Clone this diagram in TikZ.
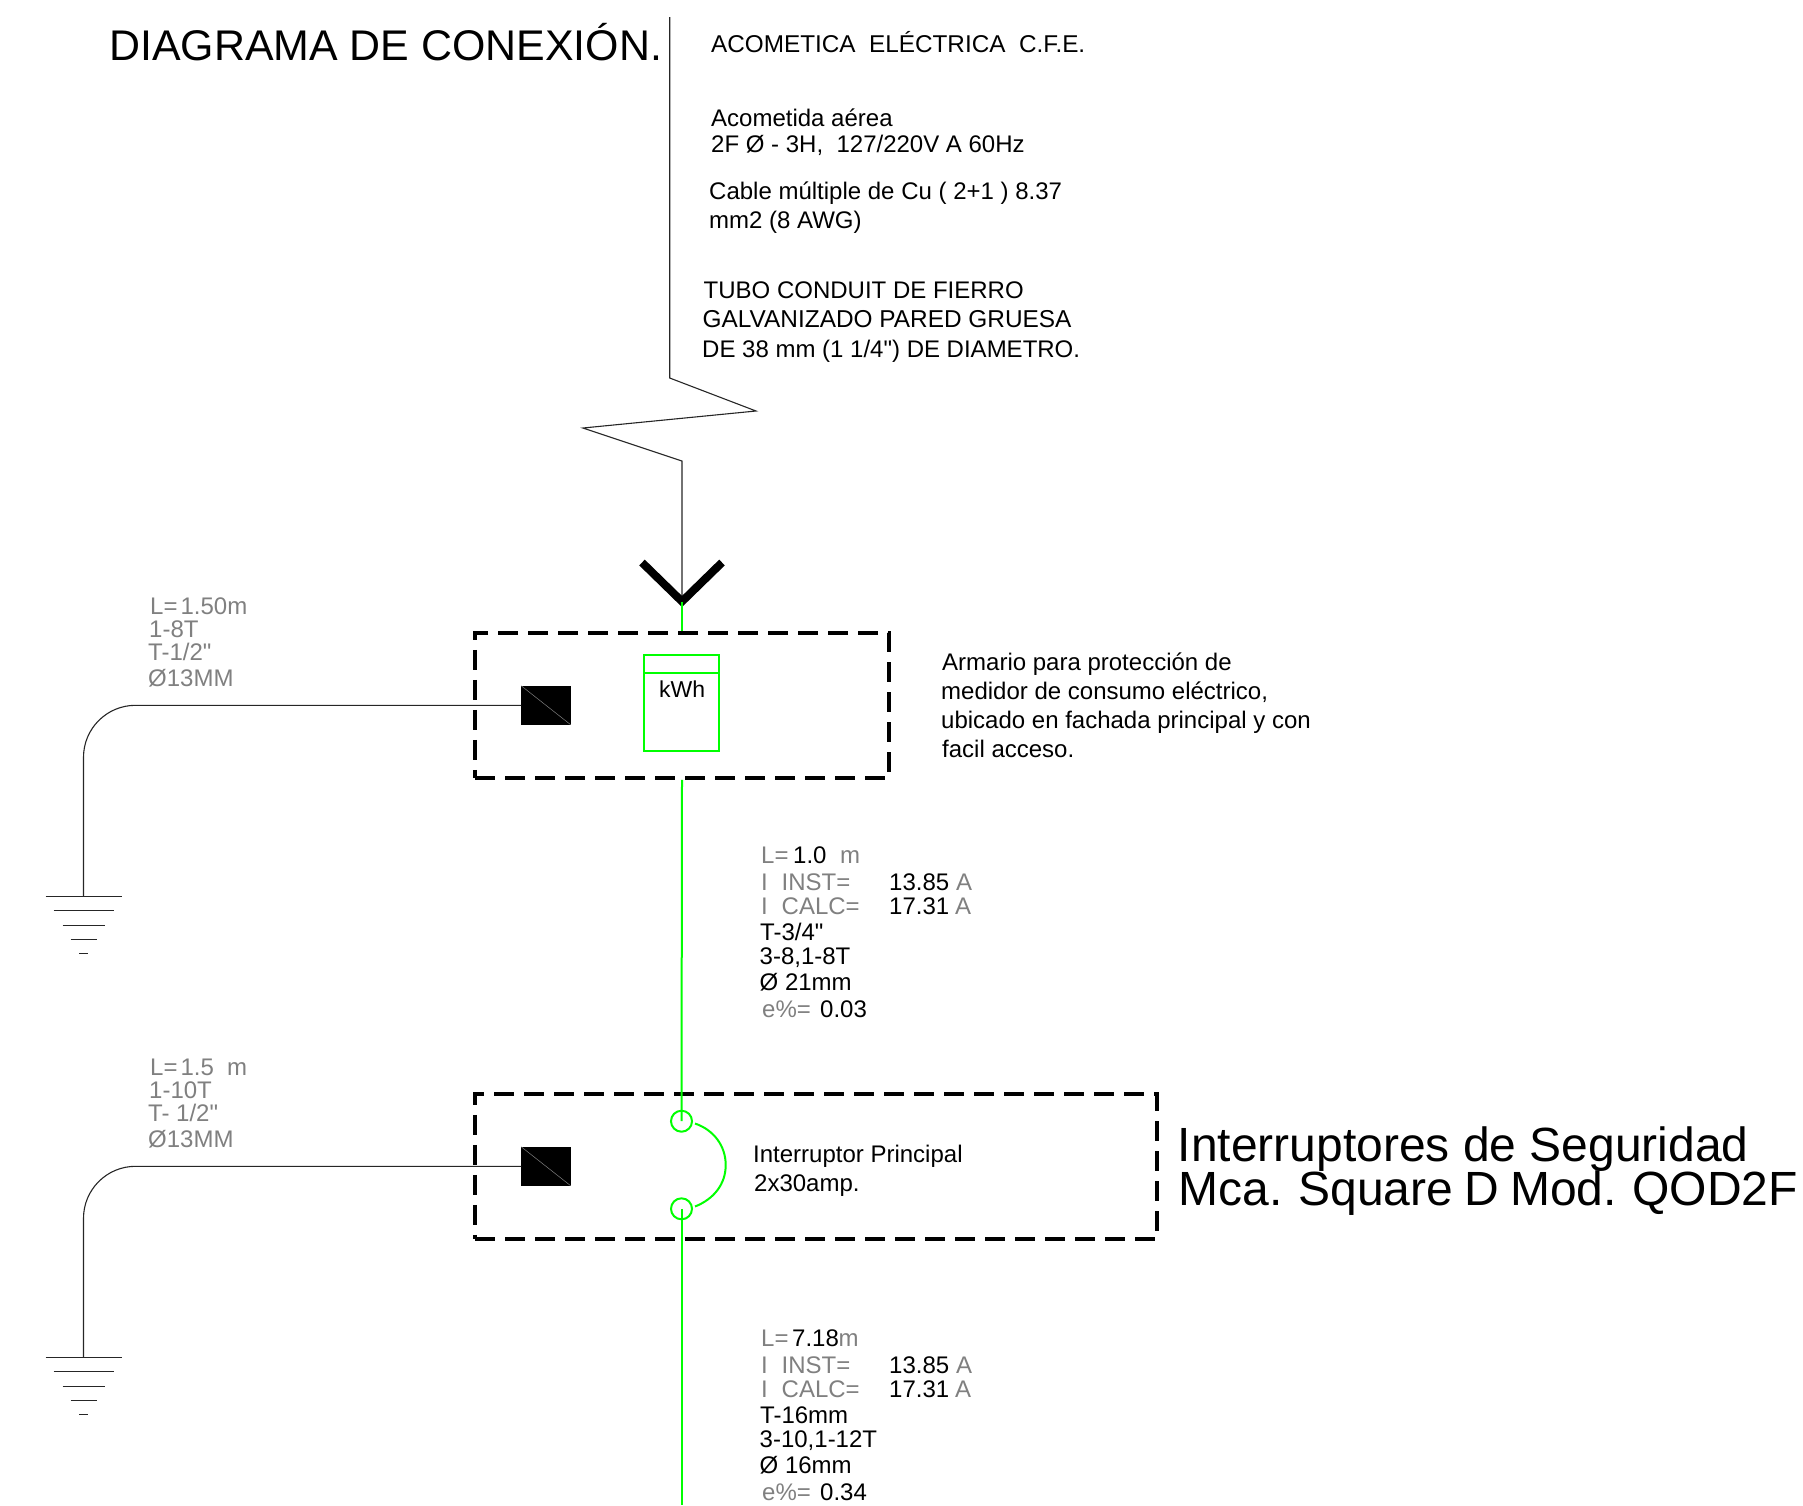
\documentclass[tikz,border=0pt]{standalone}
\usepackage{fontspec}
\setmainfont[Ligatures=TeXOff]{Liberation Sans}
\definecolor{wiregreen}{RGB}{0,255,0}
\definecolor{labelgray}{RGB}{128,128,128}
\tikzset{
	txt/.style={anchor=base west,inner sep=0pt,font=\fontsize{24}{24}\selectfont},
	gtxt/.style={txt,text=labelgray},
	wire/.style={draw=black!85,line width=1.1pt},
	feeder/.style={draw=wiregreen,line width=2pt},
	cabinet/.style={draw,line width=4pt,dash pattern=on 20pt off 10pt,inner sep=0pt},
	earthblock/.style={draw,fill=black,inner sep=0pt,minimum width=49pt,minimum height=38.5pt},
	contact/.style={circle,draw=wiregreen,line width=2pt,inner sep=0pt,minimum size=21pt}
}
\begin{document}
\begin{tikzpicture}[x=1pt,y=-1pt]
		\useasboundingbox (0,0) rectangle (1803,1505);
		%title and service notes
		\node[txt,font=\fontsize{42.9}{43}\selectfont] (title) at (109,60) {DIAGRAMA DE CONEXIÓN.};
		\node[txt,font=\fontsize{24.3}{24}\selectfont] (svc) at (711,52.5) {ACOMETICA\ \ ELÉCTRICA\ \ C.F.E.};
		\node[txt] (aer1) at (711,126) {Acometida aérea};
		\node[txt] (aer2) at (711,152) {2F Ø - 3H,\ \ 127/220V A 60Hz};
		\node[txt] (cab1) at (709,199) {Cable múltiple de Cu ( 2+1 ) 8.37};
		\node[txt] (cab2) at (709,228) {mm2 (8 AWG)};
		\node[txt] (tub1) at (703.5,298.5) {TUBO CONDUIT DE FIERRO};
		\node[txt,font=\fontsize{24.4}{24}\selectfont] (tub2) at (702.5,327.5) {GALVANIZADO PARED GRUESA};
		\node[txt] (tub3) at (702,357) {DE 38 mm (1 1/4") DE DIAMETRO.};
		%service drop
		\coordinate (top) at (669.7,17);
		\coordinate (za) at (669.7,378);
		\coordinate (zb) at (756,411);
		\coordinate (zc) at (583,428);
		\coordinate (zd) at (682,461);
		\coordinate (tip) at (682,601.5);
		\draw[wire] (top) -- (za) -- (zb) -- (zc) -- (zd) -- (tip);
		\draw[line width=8pt,miter limit=4] (642,562.5) -- (tip) -- (722,562.5);
		%cabinets
		\node[cabinet,minimum width=414pt,minimum height=145pt] (box1) at (682,705.3) {};
		\node[cabinet,minimum width=682pt,minimum height=145pt] (box2) at (816,1166.3) {};
		\foreach \g/\dy in {a/0,b/461}{
			\node[earthblock] (blk\g) at (546,705.3+\dy) {};
			\draw[labelgray,line width=.5pt] (blk\g.north west) -- (blk\g.south east);
			\coordinate (gnd\g) at (83.5,896.9+\dy);
			\draw[wire,rounded corners=52pt] (blk\g.west) -| (gnd\g);
			\foreach \w/\h in {38/0,30/13.6,21/28.3,13/42.6,4.5/57}
			\draw[wire] ([shift={(-\w,\h)}]gnd\g) -- ([shift={(\w,\h)}]gnd\g);
		}
		%meter
		\node[draw=wiregreen,line width=2pt,inner sep=0pt,minimum width=75pt,minimum height=95.6pt] (meter) at (681.5,702.8) {};
		\draw[feeder] ([yshift=-19pt]meter.north west) -- ([yshift=-19pt]meter.north east);
		\node[txt,font=\fontsize{23}{23}\selectfont] (kwh) at (659,697) {kWh};
		\node[txt] (arm1) at (942,670.5) {Armario para protección de};
		\node[txt] (arm2) at (941,699) {medidor de consumo eléctrico,};
		\node[txt] (arm3) at (941,728) {ubicado en fachada principal y con};
		\node[txt] (arm4) at (942,757) {facil acceso.};
		%switch
		\node[contact] (swa) at (681.5,1121.2) {};
		\node[contact] (swb) at (681.5,1208.8) {};
		\coordinate (arca) at (695,1123.5);
		\coordinate (arcb) at (695,1206.5);
		\draw[feeder] (tip) -- (box1.north);
		\draw[feeder] (box1.south) -- (swa.center);
		\coordinate (bottom) at (681.5,1505);
		\draw[feeder] (swb.center) -- (bottom);
		\draw[feeder] (arca) .. controls (714,1130) and (725.7,1146) .. (725.7,1165) .. controls (725.7,1184) and (714,1199) .. (arcb);
		\node[txt] (swt1) at (753,1162.5) {Interruptor Principal};
		\node[txt] (swt2) at (754,1191.5) {2x30amp.};
		\node[txt,font=\fontsize{48}{48}\selectfont] (brand1) at (1177.5,1161) {Interruptores de Seguridad};
		\node[txt,font=\fontsize{48}{48}\selectfont] (brand2) at (1178.5,1205) {\spaceskip=11.2pt Mca. Square D Mod. QOD2F};
		%earth data
		\node[gtxt] (ela) at (150,614.5) {L=\hspace{3pt}1.50m};
		\node[gtxt] (elb) at (149,637) {1-8T};
		\node[gtxt] (elc) at (148,660.5) {T-1/2"};
		\node[gtxt] (eld) at (148,686.5) {Ø13MM};
		\node[gtxt] (ema) at (150,1075.5) {L=\hspace{3pt}1.5\ \ m};
		\node[gtxt] (emb) at (149,1098) {1-10T};
		\node[gtxt] (emc) at (148,1121.5) {T- 1/2"};
		\node[gtxt] (emd) at (148,1147.5) {Ø13MM};
		%feeder data
		\foreach \n/\dy/\len/\lx/\mx/\conduit/\wires/\dia/\ev in {u/0/1.0/793/840/T-3{/}4"/3-8{,}1-8T/21mm/0.03,v/483/7.18/792/838.5/T-16mm/3-10{,}1-12T/16mm/0.34}{
			\node[gtxt] (\n a) at (761,863.2+\dy) {L=};
			\node[txt] (\n b) at (\lx,863.2+\dy) {\len};
			\node[gtxt] (\n c) at (\mx,863.2+\dy) {m};
			\node[gtxt] (\n d) at (761,890+\dy) {I};
			\node[gtxt] (\n e) at (781.5,890+\dy) {INST=};
			\node[txt] (\n f) at (889,890+\dy) {13.85};
			\node[gtxt] (\n g) at (956,890+\dy) {A};
			\node[gtxt] (\n h) at (761,914+\dy) {I};
			\node[gtxt] (\n i) at (781.5,914+\dy) {CALC=};
			\node[txt] (\n j) at (889,914+\dy) {17.31};
			\node[gtxt] (\n k) at (955,914+\dy) {A};
			\node[txt] (\n l) at (760,940+\dy) {\conduit};
			\node[txt] (\n m) at (759.5,964+\dy) {\wires};
			\node[txt] (\n n) at (759.5,990+\dy) {Ø \dia};
			\node[gtxt] (\n o) at (762,1017.5+\dy) {e\%=};
			\node[txt] (\n p) at (820,1017.5+\dy) {\ev};
		}
		\end{tikzpicture}
\end{document}
